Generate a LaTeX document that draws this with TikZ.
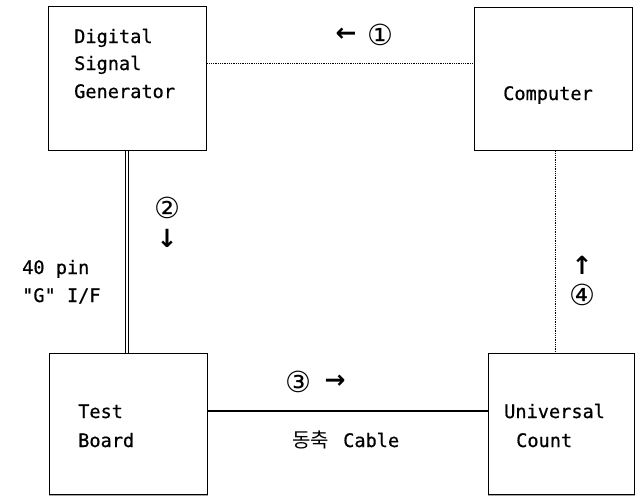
\documentclass[tikz,border=0pt]{standalone}
\usepackage{fontspec}
\newfontfamily\monof[FakeBold=0.6]{DejaVu Sans Mono}
\newfontfamily\symf{DejaVu Sans}
\newfontfamily\korf{Noto Sans CJK KR}
\begin{document}
\begin{tikzpicture}[x=1pt,y=-1pt,
  box/.style={draw, line width=1.4pt, inner sep=0pt, anchor=north west},
  txt/.style={anchor=base west, inner sep=0pt, font=\monof\fontsize{18.6}{22}\selectfont},
  sym/.style={anchor=center, inner sep=0pt, font=\symf\fontsize{29}{30}\selectfont},
  arr/.style={anchor=center, inner sep=0pt, font=\symf\bfseries\fontsize{25}{26}\selectfont},
  dotline/.style={line width=0.8pt, dash pattern=on 0.9pt off 0.9pt},
  solidline/.style={line width=1.5pt},
  dblline/.style={double, double distance=1.4pt, line width=0.9pt},
  lowedge/.style={draw=black!35, line width=1.6pt}]
\useasboundingbox (0,0) rectangle (640,496);
% boxes
\node[box, minimum width=158pt, minimum height=144pt] (dsg) at (48,6) {};
\node[box, minimum width=158pt, minimum height=143pt] (comp) at (474,7) {};
\node[box, minimum width=158pt, minimum height=141pt] (tb) at (49,353) {};
\node[box, minimum width=146pt, minimum height=141pt] (uc) at (488,353) {};
\draw[lowedge] (tb.south west) -- (tb.south east);
\draw[lowedge] (uc.south west) -- (uc.south east);
% box texts
\node[txt] (t1) at (74,43) {Digital};
\node[txt] (t2) at (74,70) {Signal};
\node[txt] (t3) at (74,98) {Generator};
\node[txt] (t4) at (503,100) {Computer};
\node[txt] (t5) at (78,418) {Test};
\node[txt] (t6) at (78,447) {Board};
\node[txt] (t7) at (504,418) {Universal};
\node[txt] (t8) at (516,447) {Count};
% connectors
\draw[dotline] ([yshift=-57pt]dsg.north east) -- ([yshift=-56pt]comp.north west);
\draw[dblline] ([xshift=79pt]dsg.south west) -- ([xshift=78pt]tb.north west);
\draw[solidline] ([yshift=-58pt]tb.north east) -- ([yshift=-58pt]uc.north west);
\draw[dotline] ([xshift=81pt]comp.south west) -- ([xshift=67pt]uc.north west);
% labels
\node[arr] (a1) at (346,35) {←};
\node[sym] (c1) at (380,35) {①};
\node[sym] (c2) at (167,208) {②};
\node[arr] (a2) at (167,238) {↓};
\node[sym] (c3) at (298,382) {③};
\node[arr] (a3) at (335,382) {→};
\node[arr] (a4) at (582,265) {↑};
\node[sym] (c4) at (582,295) {④};
\node[txt] (l1) at (22,274) {40 pin};
\node[txt] (l2) at (22,302) {"G" I/F};
\node[anchor=base west, inner sep=0pt, font=\korf\fontsize{20}{22}\selectfont] (k1) at (292,447) {동축};
\node[txt] (k2) at (343,447) {Cable};
\end{tikzpicture}
\end{document}
